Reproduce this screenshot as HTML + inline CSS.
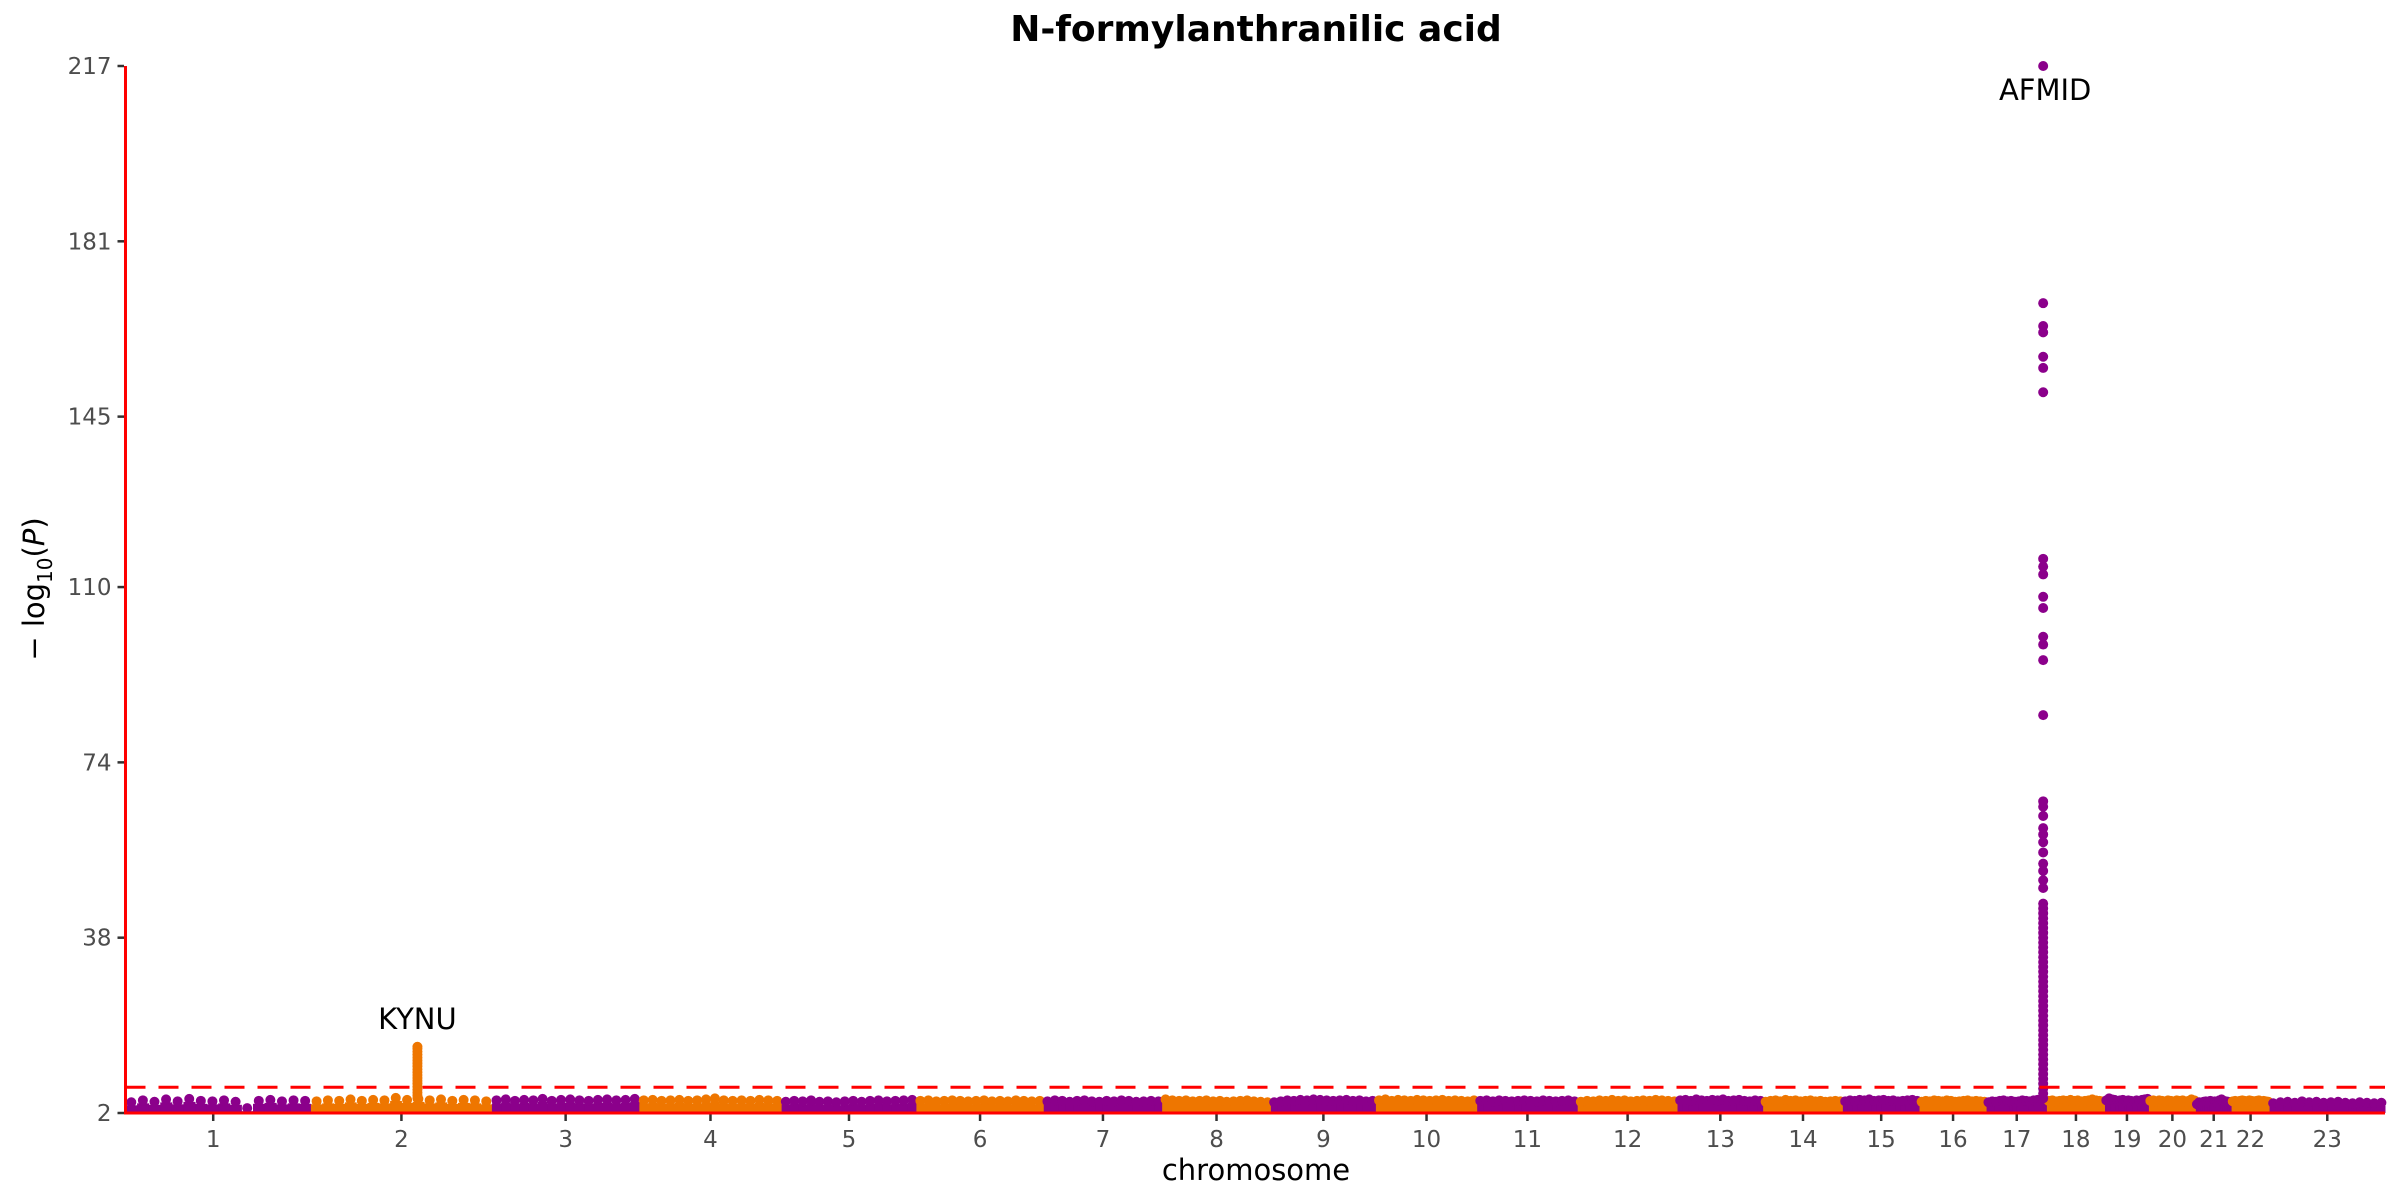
<!DOCTYPE html>
<html><head><meta charset="utf-8"><style>
html,body{margin:0;padding:0;background:#fff;}
svg{display:block;font-family:"DejaVu Sans","Liberation Sans",sans-serif;}
</style></head><body>
<svg id="chart" width="2400" height="1200" viewBox="0 0 2400 1200">
<text x="1256" y="41" text-anchor="middle" font-size="36" font-weight="bold" fill="#000">N-formylanthranilic acid</text>
<g id="plot"></g>
<text x="1256" y="1180" text-anchor="middle" font-size="29" fill="#000">chromosome</text>
<text transform="translate(44,589) rotate(-90)" text-anchor="middle" font-size="29" fill="#000">− log<tspan font-size="20" dy="8">10</tspan><tspan dy="-8">(</tspan><tspan font-style="italic">P</tspan>)</text>
</svg>
<script>
const chromLabels = ["1","2","3","4","5","6","7","8","9","10","11","12","13","14","15","16","17","18","19","20","21","22","23"];
const chromLengths = [249,243,198,191,181,171,159,146,141,136,135,134,115,107,103,90,81,78,59,63,48,51,155];
const yTicks = [2,38,74,110,145,181,217];
const threshold = 7.3;
const bgLevels = [
 [4.2,4.6,4.3,4.8,4.4,4.9,4.5,4.4,4.6,4.3,3.0,4.5,4.7,4.4,4.6,4.5],
 [4.4,4.6,4.5,4.8,4.5,4.7,4.6,5.1,4.7,4.9,4.6,4.8,4.5,4.7,4.6,4.4],
 [4.6,4.8,4.5,4.7,4.6,4.9,4.5,4.7,4.8,4.6,4.5,4.7,4.8,4.6,4.7,4.9],
 [4.6,4.7,4.5,4.6,4.7,4.5,4.6,4.8,5.0,4.6,4.5,4.6,4.5,4.7,4.6,4.5],
 [4.3,4.5,4.4,4.6,4.3,4.4,4.2,4.4,4.5,4.3,4.5,4.6,4.4,4.5,4.6,4.7],
 [4.5,4.6,4.4,4.5,4.6,4.5,4.4,4.5,4.6,4.4,4.5,4.4,4.6,4.5,4.4,4.5],
 [4.4,4.6,4.5,4.3,4.5,4.6,4.4,4.3,4.5,4.4,4.6,4.5,4.3,4.4,4.5,4.4],
 [4.8,4.6,4.5,4.6,4.4,4.5,4.6,4.4,4.5,4.3,4.4,4.5,4.6,4.4,4.3,4.2],
 [4.2,4.4,4.6,4.5,4.7,4.6,4.8,4.7,4.6,4.5,4.6,4.7,4.5,4.6,4.4,4.5],
 [4.6,4.8,4.5,4.7,4.6,4.5,4.7,4.6,4.5,4.6,4.7,4.5,4.6,4.5,4.4,4.6],
 [4.5,4.6,4.4,4.6,4.5,4.4,4.5,4.6,4.5,4.4,4.6,4.5,4.4,4.5,4.6,4.4],
 [4.3,4.5,4.4,4.6,4.5,4.7,4.5,4.6,4.4,4.5,4.6,4.5,4.7,4.6,4.5,4.4],
 [4.6,4.7,4.5,4.8,4.6,4.5,4.7,4.6,4.8,4.5,4.6,4.7,4.5,4.4,4.6,4.5],
 [4.3,4.5,4.6,4.4,4.7,4.5,4.6,4.4,4.5,4.6,4.4,4.5,4.3,4.4,4.5,4.4],
 [4.4,4.6,4.5,4.7,4.6,4.8,4.5,4.6,4.7,4.5,4.6,4.4,4.5,4.6,4.7,4.5],
 [4.3,4.5,4.4,4.6,4.5,4.4,4.6,4.5,4.3,4.4,4.5,4.6,4.4,4.5,4.4,4.3],
 [4.2,4.4,4.3,4.5,4.6,4.4,4.5,4.3,4.4,4.6,4.5,4.4,4.6,4.7,4.5,4.4],
 [4.5,4.6,4.4,4.5,4.6,4.5,4.7,4.5,4.6,4.4,4.5,4.6,4.8,4.6,4.5,4.4],
 [4.6,5.0,4.8,4.7,4.5,4.6,4.7,4.5,4.6,4.5,4.4,4.6,4.5,4.7,4.8,4.9],
 [4.5,4.6,4.4,4.6,4.5,4.4,4.6,4.5,4.4,4.6,4.5,4.6,4.4,4.5,4.8,4.6],
 [3.8,4.2,4.0,4.3,4.4,4.2,4.5,4.3,4.4,4.2,4.6,4.8,4.5,4.4,4.3,4.2],
 [4.4,4.5,4.3,4.5,4.6,4.5,4.4,4.6,4.5,4.4,4.5,4.6,4.4,4.5,4.4,4.3],
 [4.0,4.2,4.3,4.1,4.4,4.2,4.3,4.1,4.2,4.3,4.1,4.0,4.2,4.1,4.0,4.1]
];
const kynuChrom = 2, kynuPos = 143;
const kynuValues = [5,5.6,6.2,6.8,7.4,8,8.6,9.2,9.8,10.4,11,11.6,12.2,12.8,13.4,14,14.6,15.2,15.6];
const afmidChrom = 17, afmidPos = 76;
const afmidValues = [217,168.3,163.6,162.3,157.3,155,150,115.8,114.2,112.6,108,105.7,99.8,98.2,95,83.7,66,64.9,63,60.5,59.2,57.6,55.5,53.2,51.7,49.8,48.2,45,44,43,42,41,40,39,38,37,36,35,34,33,32,31,30,29,28,27,26,25,24,23,22,21,20,19,18,17,16,15,14,13,12,11,10,9,8,7,6,5];
const annotations = [{gene:"KYNU",chrom:2,pos:143,y:15.6},{gene:"AFMID",chrom:17,pos:76,y:217}];

const NS="http://www.w3.org/2000/svg";
const L=125.5,R=2385,T=66,B=1113;
const total=chromLengths.reduce((a,b)=>a+b,0);
const starts=[];let acc=0;chromLengths.forEach(l=>{starts.push(acc);acc+=l;});
function xs(ci,pos){return L+(starts[ci]+pos)/total*(R-L);}
function ys(v){return B-(v-2)/(217-2)*(B-T);}
const plot=document.getElementById('plot');
function mk(tag,at){const e=document.createElementNS(NS,tag);for(const k in at)e.setAttribute(k,at[k]);plot.appendChild(e);return e;}
const PURPLE="#8B008B",ORANGE="#EE7600";
function col(ci){return ci%2===0?PURPLE:ORANGE;}

bgLevels.forEach((arr,ci)=>{
  const n=arr.length,len=chromLengths[ci];
  const g=document.createElementNS(NS,'g');
  
  
  plot.appendChild(g);
  arr.forEach((v,i)=>{
    const x0=xs(ci,len*i/n),x1=xs(ci,len*(i+1)/n);
    const r=document.createElementNS(NS,'rect');
    r.setAttribute('x',x0);r.setAttribute('y',ys(v)+3);r.setAttribute('width',x1-x0+0.5);r.setAttribute('height',B-ys(v)-3);r.setAttribute('fill',col(ci));
    
    
    g.appendChild(r);
    const c=document.createElementNS(NS,'circle');
    c.setAttribute('cx',(x0+x1)/2);c.setAttribute('cy',ys(v));c.setAttribute('r',5);c.setAttribute('fill',col(ci));
    
    
    g.appendChild(c);
  });
});
function peak(chrom,pos,vals,name){
  const ci=chrom-1,x=xs(ci,pos);
  vals.forEach(v=>{
    const c=mk('circle',{cx:x,cy:ys(v),r:5,fill:col(ci)});
    
    
  });
}
peak(kynuChrom,kynuPos,kynuValues,'kynu-peak');
peak(afmidChrom,afmidPos,afmidValues,'afmid-peak');

const th=mk('line',{x1:L,x2:R,y1:ys(threshold),y2:ys(threshold),stroke:"#FF0000","stroke-width":3,"stroke-dasharray":"20 13"});



const ya=mk('line',{x1:L,x2:L,y1:T,y2:B+1.5,stroke:"#FF0000","stroke-width":3});


const xa=mk('line',{x1:L-1.5,x2:R,y1:B,y2:B,stroke:"#FF0000","stroke-width":3});


yTicks.forEach(t=>{
  const tk=mk('line',{x1:L-8,x2:L-1.5,y1:ys(t),y2:ys(t),stroke:"#333","stroke-width":2.5});
  
  
  const tx=mk('text',{x:L-14,y:ys(t)+8,"text-anchor":"end","font-size":23,fill:"#4d4d4d"});
  tx.textContent=t;
  
  
});
chromLabels.forEach((lab,ci)=>{
  const x=xs(ci,chromLengths[ci]/2)-(ci===0?5:0);
  const tk=mk('line',{x1:x,x2:x,y1:B+1.5,y2:B+8,stroke:"#333","stroke-width":2.5});
  
  
  const tx=mk('text',{x:x,y:B+34,"text-anchor":"middle","font-size":23,fill:"#4d4d4d"});
  tx.textContent=lab;
  
  
});
annotations.forEach(a=>{
  const x=xs(a.chrom-1,a.pos);
  const yy=a.gene==="AFMID"?ys(a.y)+34:ys(a.y)-18;
  const tx=mk('text',{x:x+(a.gene==="AFMID"?2:0),y:yy,"text-anchor":"middle","font-size":29,fill:"#000"});
  tx.textContent=a.gene;
  
  
});
</script>
</body></html>
